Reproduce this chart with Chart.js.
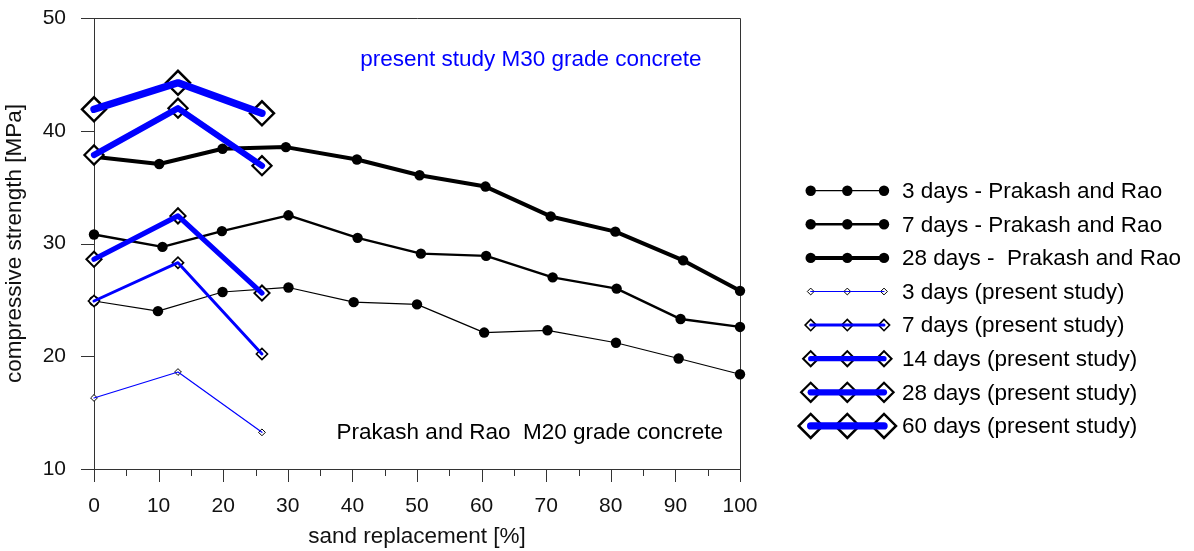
<!DOCTYPE html>
<html>
<head>
<meta charset="utf-8">
<script src="https://cdn.jsdelivr.net/npm/chart.js@4/dist/chart.umd.min.js"></script>
<style>
html,body{margin:0;padding:0;background:#fff;}
#wrap{width:1194px;height:551px;position:relative;}
</style>
</head>
<body>
<div id="wrap"><canvas id="c" width="1194" height="551"></canvas></div>
<script>
// ---------------- data ----------------
const xTickValues = [0, 10, 20, 30, 40, 50, 60, 70, 80, 90, 100];
const xMinorTickValues = [5, 15, 25, 35, 45, 55, 65, 75, 85, 95];
const yTickValues = [10, 20, 30, 40, 50];

// Prakash and Rao (M20)
const prakash3X  = [0, 9.9, 19.9, 30.1, 40.2, 50.0, 60.4, 70.2, 80.8, 90.5, 100];
const prakash3Y  = [24.9, 24.0, 25.7, 26.1, 24.8, 24.6, 22.1, 22.3, 21.2, 19.8, 18.4];
const prakash7X  = [0, 10.6, 19.8, 30.1, 40.8, 50.6, 60.7, 71.0, 80.9, 90.8, 100];
const prakash7Y  = [30.8, 29.7, 31.1, 32.5, 30.5, 29.1, 28.9, 27.0, 26.0, 23.3, 22.6];
const prakash28X = [0, 10.1, 19.9, 29.7, 40.7, 50.4, 60.6, 70.7, 80.7, 91.2, 100];
const prakash28Y = [37.7, 37.05, 38.4, 38.55, 37.45, 36.05, 35.05, 32.4, 31.05, 28.5, 25.8];

// present study (M30)
const presentX   = [0, 13, 26];
const present3   = [16.3, 18.6, 13.25];
const present7   = [24.9, 28.3, 20.2];
const present14  = [28.6, 32.45, 25.6];
const present28  = [37.85, 42.0, 36.9];
const present60  = [41.9, 44.25, 41.55];

const labels = [
  '3 days - Prakash and Rao',
  '7 days - Prakash and Rao',
  '28 days -  Prakash and Rao',
  '3 days (present study)',
  '7 days (present study)',
  '14 days (present study)',
  '28 days (present study)',
  '60 days (present study)'
];
const xTitle = 'sand replacement [%]';
const yTitle = 'compressive strength [MPa]';
const noteTop = 'present study M30 grade concrete';
const noteBottom = 'Prakash and Rao  M20 grade concrete';

// ---------------- styles ----------------
const FONT = "'Liberation Sans', Arial, Helvetica, sans-serif";
const AXIS = '#333333';
const BLUE = '#0000ff';

const prakashStyle = [
  {lw: 1.2, r: 5.2},
  {lw: 2.4, r: 5.2},
  {lw: 4.0, r: 5.2}
];
const presentStyle = [
  {lw: 1.2, r: 3.4, bw: 1.0},
  {lw: 3.0, r: 5.6, bw: 1.6},
  {lw: 5.2, r: 7.6, bw: 2.0},
  {lw: 6.2, r: 9.6, bw: 2.2},
  {lw: 7.4, r: 12.0, bw: 2.5}
];

function pts(xs, ys) { return xs.map((x, i) => ({x: x, y: ys[i]})); }

const prakashSeries = [[prakash3X, prakash3Y], [prakash7X, prakash7Y], [prakash28X, prakash28Y]];
const presentSeries = [present3, present7, present14, present28, present60];

const datasets = [];
const legendEntries = [];
prakashSeries.forEach((s, i) => {
  const st = prakashStyle[i];
  datasets.push({
    label: labels[i],
    data: pts(s[0], s[1]),
    borderColor: '#000', borderWidth: st.lw,
    pointStyle: 'circle', pointRadius: st.r, pointHoverRadius: st.r,
    pointBackgroundColor: '#000', pointBorderWidth: 0,
    borderJoinStyle: 'round',
    tension: 0, order: 3, clip: false
  });
  legendEntries.push({kind: 'circle', label: labels[i], lw: st.lw, r: st.r});
});
presentSeries.forEach((ys, i) => {
  const st = presentStyle[i];
  datasets.push({
    label: labels[3 + i] + ' markers',
    data: pts(presentX, ys),
    showLine: false,
    pointStyle: 'rectRot', pointRadius: st.r, pointHoverRadius: st.r,
    pointBackgroundColor: '#fff', pointBorderColor: '#000', pointBorderWidth: st.bw,
    order: 2, clip: false
  });
  datasets.push({
    label: labels[3 + i],
    data: pts(presentX, ys),
    borderColor: BLUE, borderWidth: st.lw,
    borderCapStyle: 'round', borderJoinStyle: 'round',
    pointRadius: 0, pointHoverRadius: 0,
    tension: 0, order: 1, clip: false
  });
  legendEntries.push({kind: 'diamond', label: labels[3 + i], lw: st.lw, r: st.r, bw: st.bw});
});

// ---------------- plugins ----------------
const framePlugin = {
  id: 'frame',
  beforeDatasetsDraw(chart) {
    const {ctx, chartArea: a} = chart;
    const xs = chart.scales.x, ys = chart.scales.y;
    ctx.save();
    ctx.strokeStyle = AXIS;
    ctx.lineWidth = 1;
    ctx.beginPath();
    // top and right frame lines
    ctx.moveTo(Math.round(a.left), Math.round(a.top) + 0.5);
    ctx.lineTo(Math.round(a.right) + 0.5, Math.round(a.top) + 0.5);
    ctx.lineTo(Math.round(a.right) + 0.5, Math.round(a.bottom));
    // x tick marks (outward)
    xTickValues.forEach(v => {
      const px = Math.round(xs.getPixelForValue(v)) + 0.5;
      ctx.moveTo(px, a.bottom); ctx.lineTo(px, a.bottom + 13);
    });
    xMinorTickValues.forEach(v => {
      const px = Math.round(xs.getPixelForValue(v)) + 0.5;
      ctx.moveTo(px, a.bottom); ctx.lineTo(px, a.bottom + 7);
    });
    // y tick marks (outward)
    yTickValues.forEach(v => {
      const py = Math.round(ys.getPixelForValue(v)) + 0.5;
      ctx.moveTo(a.left - 13, py); ctx.lineTo(a.left, py);
    });
    ctx.stroke();
    ctx.restore();
  }
};

const notesPlugin = {
  id: 'notes',
  afterDatasetsDraw(chart) {
    const {ctx} = chart;
    const xs = chart.scales.x, ys = chart.scales.y;
    ctx.save();
    ctx.font = '22.5px ' + FONT;
    ctx.textAlign = 'left';
    ctx.textBaseline = 'alphabetic';
    ctx.fillStyle = BLUE;
    ctx.fillText(noteTop, xs.getPixelForValue(41.2), ys.getPixelForValue(45.74));
    ctx.fillStyle = '#000';
    ctx.fillText(noteBottom, xs.getPixelForValue(37.55), ys.getPixelForValue(12.63));
    ctx.restore();
  }
};

const legendPlugin = {
  id: 'sideLegend',
  afterDraw(chart) {
    const {ctx} = chart;
    const mx = [810.7, 847.3, 884];
    const textX = 902;
    const y0 = 190.7, dy = 33.6;
    ctx.save();
    legendEntries.forEach((e, i) => {
      const y = y0 + i * dy;
      if (e.kind === 'circle') {
        ctx.strokeStyle = '#000';
        ctx.lineWidth = e.lw;
        ctx.beginPath(); ctx.moveTo(mx[0], y); ctx.lineTo(mx[2], y); ctx.stroke();
        ctx.fillStyle = '#000';
        mx.forEach(x => { ctx.beginPath(); ctx.arc(x, y, e.r, 0, Math.PI * 2); ctx.fill(); });
      } else {
        mx.forEach(x => {
          ctx.beginPath();
          ctx.moveTo(x - e.r, y); ctx.lineTo(x, y - e.r); ctx.lineTo(x + e.r, y); ctx.lineTo(x, y + e.r);
          ctx.closePath();
          ctx.fillStyle = '#fff'; ctx.fill();
          ctx.strokeStyle = '#000'; ctx.lineWidth = e.bw; ctx.stroke();
        });
        ctx.strokeStyle = BLUE; ctx.lineWidth = e.lw; ctx.lineCap = 'round';
        ctx.beginPath(); ctx.moveTo(mx[0], y); ctx.lineTo(mx[2], y); ctx.stroke();
        ctx.lineCap = 'butt';
      }
      ctx.fillStyle = '#000';
      ctx.font = '22.5px ' + FONT;
      ctx.textAlign = 'left';
      ctx.textBaseline = 'middle';
      ctx.fillText(e.label, textX, y + 1);
    });
    ctx.restore();
  }
};

// ---------------- chart ----------------
new Chart(document.getElementById('c'), {
  type: 'line',
  data: {datasets: datasets},
  options: {
    responsive: false,
    animation: false,
    events: [],
    layout: {padding: {top: 18, right: 454, bottom: 0, left: 0}},
    plugins: {legend: {display: false}, tooltip: {enabled: false}, title: {display: false}},
    scales: {
      x: {
        type: 'linear', min: 0, max: 100,
        afterFit: s => { s.height = 82; s.paddingLeft = 0; s.paddingRight = 0; },
        afterBuildTicks: s => { s.ticks = xTickValues.map(v => ({value: v})); },
        ticks: {
          autoSkip: false, maxRotation: 0, minRotation: 0,
          padding: 25, color: '#111',
          font: {family: FONT, size: 21}
        },
        grid: {display: true, drawOnChartArea: false, drawTicks: false},
        border: {display: true, color: AXIS, width: 1},
        title: {display: true, text: xTitle, color: '#111',
                font: {family: FONT, size: 22.5, lineHeight: 1.2}, padding: {top: 0, bottom: 1}}
      },
      y: {
        type: 'linear', min: 10, max: 50,
        afterFit: s => { s.width = 94; s.paddingTop = 0; s.paddingBottom = 0; },
        afterBuildTicks: s => { s.ticks = yTickValues.map(v => ({value: v})); },
        ticks: {padding: 28, color: '#111', font: {family: FONT, size: 21}},
        grid: {display: true, drawOnChartArea: false, drawTicks: false},
        border: {display: true, color: AXIS, width: 1},
        title: {display: true, text: yTitle, color: '#111',
                font: {family: FONT, size: 22.5, lineHeight: 1.2}, padding: {top: 1, bottom: 0}}
      }
    }
  },
  plugins: [framePlugin, notesPlugin, legendPlugin]
});
</script>
</body>
</html>
